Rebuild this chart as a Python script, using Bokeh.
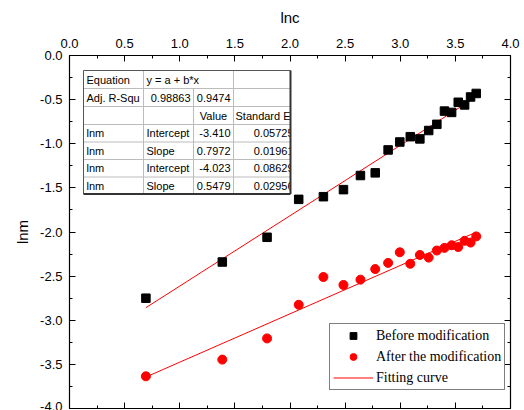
import numpy as np
from bokeh.plotting import figure
from bokeh.models import (LinearAxis, Range1d, Legend, LegendItem,
                          SingleIntervalTicker, NumeralTickFormatter)
from bokeh.core.properties import value
from bokeh.embed import file_html
from bokeh.resources import INLINE

# ---------------- data ----------------
lnc = [0.693, 1.386, 1.792, 2.079, 2.303, 2.485, 2.639, 2.773, 2.890, 2.996,
       3.091, 3.178, 3.258, 3.332, 3.401, 3.466, 3.526, 3.584, 3.638, 3.689]
lnm_before = [-2.75, -2.34, -2.06, -1.63, -1.60, -1.52, -1.36, -1.33, -1.07, -0.98,
              -0.92, -0.945, -0.85, -0.78, -0.63, -0.645, -0.53, -0.56, -0.47, -0.43]
lnm_after = [-3.635, -3.446, -3.206, -2.825, -2.51, -2.60, -2.54, -2.42, -2.35, -2.23,
             -2.36, -2.26, -2.29, -2.21, -2.18, -2.15, -2.17, -2.10, -2.12, -2.05]
fit_intercept = [-3.410, -4.023]
fit_slope = [0.7972, 0.5479]

series_names = ["Before modification", "After the modification", "Fitting curve"]
x_title = "lnc"
y_title = "lnm"

table_rows = [
    ["Equation", "y = a + b*x", "", ""],
    ["Adj. R-Squ", "0.98863", "0.9474", ""],
    ["", "", "Value", "Standard Er"],
    ["lnm", "Intercept", "-3.410", "0.05725"],
    ["lnm", "Slope", "0.7972", "0.01961"],
    ["lnm", "Intercept", "-4.023", "0.08629"],
    ["lnm", "Slope", "0.5479", "0.02956"],
]

FONT = "Liberation Sans"
SERIF = "Liberation Serif"

# ---------------- figure ----------------
p = figure(width=524, height=410, x_range=Range1d(0, 4), y_range=Range1d(-4, 0),
           output_backend="svg", toolbar_location=None, x_axis_location="above",
           min_border_left=69, min_border_top=55, min_border_right=14,
           min_border_bottom=2, background_fill_color="white",
           border_fill_color="white")
p.grid.visible = False
p.outline_line_color = "black"
p.outline_line_width = 1

p.add_layout(LinearAxis(), "below")
p.add_layout(LinearAxis(), "right")

for ax in p.axis:
    ax.ticker = SingleIntervalTicker(interval=0.5, num_minor_ticks=2)
    ax.formatter = NumeralTickFormatter(format="0.0")
    ax.major_tick_in = 6
    ax.major_tick_out = 0
    ax.minor_tick_in = 3
    ax.minor_tick_out = 0
    ax.axis_line_color = "black"
    ax.major_tick_line_color = "black"
    ax.minor_tick_line_color = "black"
    ax.axis_line_width = 1.2
    ax.major_label_text_font = FONT
    ax.major_label_text_font_size = "13px"
    ax.major_label_text_color = "black"
    ax.axis_label_text_font = FONT
    ax.axis_label_text_font_size = "15px"
    ax.axis_label_text_font_style = "normal"
    ax.axis_label_text_color = "black"

top = p.above[0]
top.axis_label = x_title
top.major_label_standoff = 8
top.axis_label_standoff = 10

left = p.left[0]
left.axis_label = y_title
left.major_label_standoff = 7
left.axis_label_standoff = 6

# mirror axes: ticks only, labels not drawn
for ax in (p.below[0], p.right[0]):
    ax.major_label_text_font_size = "1px"
    ax.major_label_text_color = None
    ax.major_label_standoff = 0
    ax.axis_label = None

# px -> data helpers for table placement
def X(px):
    return (px - 69) / 110.25

def Y(py):
    return -(py - 55) / 88.25

# ---------------- table ----------------
col_px = [83, 143, 193, 233, 290]
row_px = [70, 88, 106, 124, 141.5, 159, 176.5, 193.5]
cx = [X(v) for v in col_px]
ry = [Y(v) for v in row_px]

p.quad(left=[cx[0]], right=[cx[-1]], top=[ry[0]], bottom=[ry[-1]],
       fill_color="white", line_color=None)
p.segment(x0=[cx[0]] * 6, x1=[cx[-1]] * 6, y0=ry[1:-1], y1=ry[1:-1],
          line_color="#bcbcbc", line_width=1)
p.segment(x0=[cx[1], cx[2], cx[3]], x1=[cx[1], cx[2], cx[3]],
          y0=[ry[0], ry[1], ry[0]], y1=[ry[-1], ry[-1], ry[-1]],
          line_color="#bcbcbc", line_width=1)

tx, ty, tt, ta = [], [], [], []
for i, row in enumerate(table_rows):
    yc = (ry[i] + ry[i + 1]) / 2
    for j, s in enumerate(row):
        if not s:
            continue
        if j == 0:
            x, a = X(col_px[0] + 3), "left"
        elif j == 1:
            if s[0].isdigit():
                x, a = X(col_px[2] - 3), "right"
            else:
                x, a = X(col_px[1] + 3), "left"
        elif j == 2:
            if s == "Value":
                x, a = (cx[2] + cx[3]) / 2, "center"
            else:
                x, a = X(col_px[3] - 3), "right"
        else:
            if s[0].isdigit():
                x, a = X(col_px[4] + 3), "right"
            else:
                x, a = X(col_px[3] + 2), "left"
        tx.append(x); ty.append(yc); tt.append(s); ta.append(a)

p.text(x=tx, y=ty, text=tt, text_align=ta, text_baseline="middle",
       text_font=value(FONT), text_font_size="11px", text_color="black")

# cover overflow at the table's right edge
p.quad(left=[X(290.5)], right=[X(300)], top=[Y(67)], bottom=[Y(194.5)],
       fill_color="white", line_color=None)

# outer border with shadow
p.segment(x0=[cx[0], cx[0]], x1=[cx[-1], cx[0]], y0=[ry[0], ry[0]], y1=[ry[0], ry[-1]],
          line_color="#555555", line_width=1)
p.segment(x0=[cx[-1], cx[0]], x1=[cx[-1], cx[-1]], y0=[ry[0], ry[-1]], y1=[ry[-1], ry[-1]],
          line_color="#333333", line_width=2)

# ---------------- fits ----------------
fx = np.array([lnc[0], lnc[-1]])
fit1 = p.line(fx, fit_intercept[0] + fit_slope[0] * fx, line_color="red", line_width=1)
fit2 = p.line(fx, fit_intercept[1] + fit_slope[1] * fx, line_color="red", line_width=1)

# ---------------- points ----------------
r1 = p.scatter(lnc, lnm_before, marker="square", size=8.5, fill_color="black",
               line_color="black")
r2 = p.scatter(lnc, lnm_after, marker="circle", size=9, fill_color="red",
               line_color="red")

legend = Legend(items=[LegendItem(label=series_names[0], renderers=[r1]),
                       LegendItem(label=series_names[1], renderers=[r2]),
                       LegendItem(label=series_names[2], renderers=[fit1])],
                location=(260, 18), orientation="vertical",
                label_text_font=SERIF, label_text_font_size="14px",
                label_text_color="black",
                border_line_color="black", border_line_width=1,
                background_fill_color="white", background_fill_alpha=1,
                glyph_width=40, glyph_height=17, label_height=17,
                label_standoff=3, spacing=4, padding=3, margin=0)
p.add_layout(legend)

open("out.html", "w").write(file_html(p, INLINE))
